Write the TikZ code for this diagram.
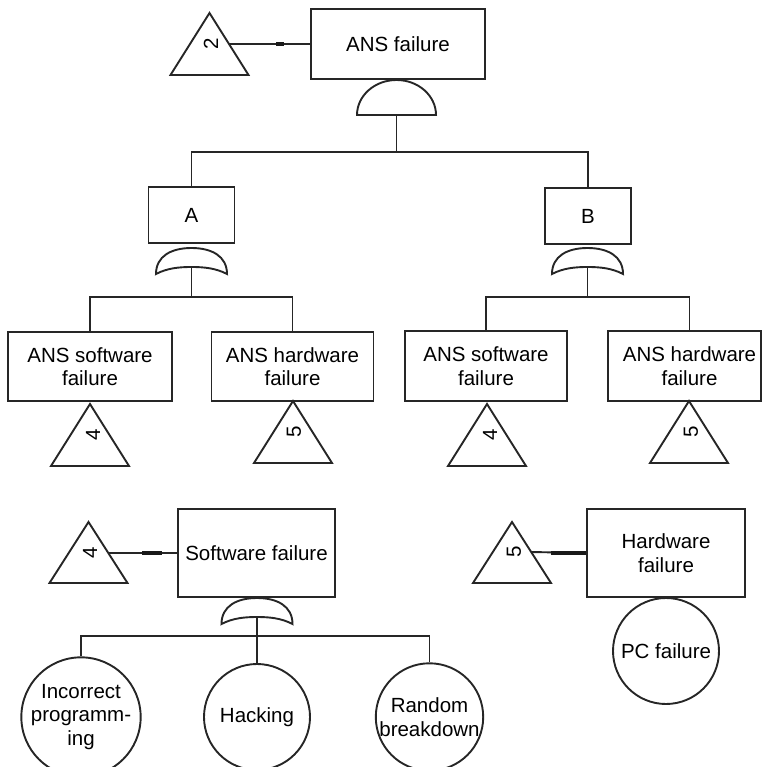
\documentclass[tikz,border=0pt]{standalone}
\usepackage{fontspec}
\setmainfont{Liberation Sans}
\begin{document}
\begin{tikzpicture}[
  x=1pt, y=-1pt,
  line width=1.9pt, draw=black!85, line join=miter,
  lbl/.style={font=\fontsize{20.5}{23.5}\selectfont, align=center, text=black, inner sep=0pt},
  evbox/.style={draw, rectangle, lbl},
  evcirc/.style={draw, circle, lbl, minimum size=106pt},
  num/.style={lbl, rotate=90},
  tri/.style={draw},
  dashmark/.style={line width=3.6pt, draw=black!90},
  % OR gate, origin at the top centre of its curved back
  orgate/.pic={
    \draw (-35.5,26) .. controls (-35.5,8) and (-20,0) .. (0,0)
          .. controls (20,0) and (35.5,8) .. (35.5,26)
          .. controls (24,20) and (12,19) .. (0,19)
          .. controls (-12,19) and (-24,20) .. (-35.5,26) -- cycle;
    \coordinate (-out) at (0,19);
  },
  % AND gate, origin at the centre of its flat base
  andgate/.pic={
    \draw (-39.5,0) .. controls (-39.5,-19.3) and (-21.8,-35) .. (0,-35)
          .. controls (21.8,-35) and (39.5,-19.3) .. (39.5,0) -- cycle;
    \coordinate (-out) at (0,0);
  }
]
\useasboundingbox (0,0) rectangle (762,767);

% ---------- top event ----------
\node[evbox, minimum width=174pt, minimum height=70pt] (top) at (398,44) {ANS failure};
\pic (gand) at (396.5,115) {andgate};
\draw[tri] (209.5,13) -- (248.5,75) -- (170.5,75) -- cycle;
\node[num] (n2) at (211,44) {2};
\coordinate (t2r) at (229,44);
\draw (t2r) -- (top.west);
\draw[dashmark] ([xshift=-34pt]top.west) -- ([xshift=-26pt]top.west);

% ---------- intermediate events A and B ----------
\node[evbox, minimum width=86pt, minimum height=56pt] (A) at (191.5,215) {A};
\node[evbox, minimum width=86pt, minimum height=56pt] (B) at (588,216) {B};
\coordinate (j1) at (396.5,152);
\draw (gand-out) -- (j1);
\draw (A.north) |- (j1) -| (B.north);

\pic (gA) at (191.5,248) {orgate};
\pic (gB) at (587.5,248) {orgate};

% ---------- branch under A ----------
\node[evbox, minimum width=164pt, minimum height=69pt] (sw1) at (90,366.5) {ANS software\\failure};
\node[evbox, minimum width=162pt, minimum height=69pt] (hw1) at (292.5,366.5) {ANS hardware\\failure};
\coordinate (ja) at (191.5,297);
\draw (gA-out) -- (ja);
\draw (sw1.north) |- (ja) -| (hw1.north);

\draw[tri] (90,404) -- (129,466) -- (51,466) -- cycle;
\node[num] (n4a) at (93,435) {4};
\draw[tri] (293,401) -- (332,463) -- (254,463) -- cycle;
\node[num] (n5a) at (294,432) {5};

% ---------- branch under B ----------
\node[evbox, minimum width=162pt, minimum height=70pt] (sw2) at (486,366) {ANS software\\failure};
\node[evbox, minimum width=153pt, minimum height=70pt] (hw2) at (684.5,366) {};
\node[lbl] (hw2t) at (689.5,366) {ANS hardware\\failure};
\coordinate (jb) at (587.5,297);
\draw (gB-out) -- (jb);
\draw (sw2.north) |- (jb) -| (hw2t |- hw2.north);

\draw[tri] (487,404) -- (526,466) -- (448,466) -- cycle;
\node[num] (n4b) at (490,435) {4};
\draw[tri] (689,401) -- (728,463) -- (650,463) -- cycle;
\node[num] (n5b) at (691,432) {5};

% ---------- transfer 4: software failure ----------
\node[evbox, minimum width=157pt, minimum height=88pt] (swf) at (256.5,553) {Software failure};
\draw[tri] (88.5,522) -- (127.5,583) -- (49.5,583) -- cycle;
\node[num] (n4c) at (90,553) {4};
\coordinate (t4r) at (109,553);
\draw (t4r) -- (swf.west);
\draw[dashmark] ([xshift=-35pt]swf.west) -- ([xshift=-15pt]swf.west);

\pic (gC) at (257,598) {orgate};
\node[evcirc] (inc) at (81,717) {Incorrect\\programm-\\ing};
\node[evcirc] (hack) at (257,717) {Hacking};
\node[evcirc] (rnd) at (429.5,717) {Random\\breakdown};
\coordinate (jc) at (257,636);
\draw (gC-out) -- (hack.north);
\draw (inc.north) |- (jc) -| (rnd.north);

% ---------- transfer 5: hardware failure ----------
\node[evbox, minimum width=158pt, minimum height=88pt] (hwf) at (666,553) {Hardware\\failure};
\draw[tri] (512,522) -- (551,583) -- (473,583) -- cycle;
\node[num] (n5c) at (514,552) {5};
\coordinate (t5r) at (531,552);
\draw (t5r) -- (hwf.west);
\draw[dashmark] ([xshift=-35pt]hwf.west) -- (hwf.west);
\node[evcirc] (pc) at (666,651) {PC failure};
\end{tikzpicture}
\end{document}
